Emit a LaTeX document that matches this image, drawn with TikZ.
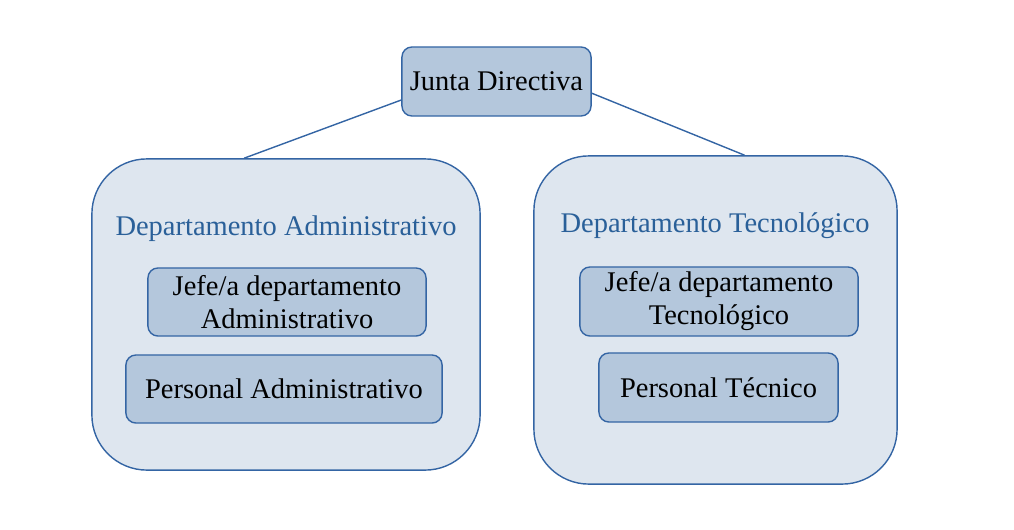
\documentclass[tikz,border=0pt]{standalone}
\usepackage{fontspec}
\setmainfont{Liberation Serif}
\usepackage{xcolor}
\definecolor{b}{HTML}{3465A4}
\definecolor{f}{HTML}{B4C7DC}
\definecolor{d}{HTML}{DEE6EF}
\definecolor{t}{HTML}{2A6099}

\begin{document}
\begin{tikzpicture}[x=0.01cm, y=-0.01cm,
    puesto/.style={draw=b, fill=f, line width=0.4pt, rounded corners=0.1cm, inner sep=0pt, align=center, font=\fontsize{8.1}{9.4}\selectfont},
    depto/.style={draw=b, fill=d, line width=0.4pt, rounded corners=0.55cm, inner sep=0pt},
    titulo/.style={text=t, font=\fontsize{8.1}{9.4}\selectfont}]
        \useasboundingbox (0,0) rectangle (1014,530);

        % Departamentos
        \node[depto, minimum width=3.88cm, minimum height=3.11cm] (adm) at (286,314.5) {};
        \node[depto, minimum width=3.63cm, minimum height=3.28cm] (tec) at (715.5,320) {};

        % Junta
        \node[puesto, minimum width=1.89cm, minimum height=0.69cm] (jd) at (496.5,81.5) {Junta Directiva};

        % Conexiones
        \draw[b, line width=0.4pt] (jd.191) -- (adm.105.8);
        \draw[b, line width=0.4pt] (jd.-7) -- (tec.80.1);

        % Administrativo
        \node[titulo] (tadm) at (286,229) {Departamento Administrativo};
        \node[puesto, minimum width=2.78cm, minimum height=0.68cm] (jadm) at (287,302) {Jefe/a departamento\\Administrativo};
        \node[puesto, minimum width=3.16cm, minimum height=0.68cm] (padm) at (284,389) {Personal Administrativo};

        % Tecnologico
        \node[titulo] (ttec) at (715,226) {Departamento Tecnológico};
        \node[puesto, minimum width=2.78cm, minimum height=0.69cm] (jtec) at (719,301.5) {Jefe/a departamento\\Tecnológico};
        \node[puesto, minimum width=2.39cm, minimum height=0.69cm] (ptec) at (718.5,387.5) {Personal Técnico};
    \end{tikzpicture}
\end{document}
